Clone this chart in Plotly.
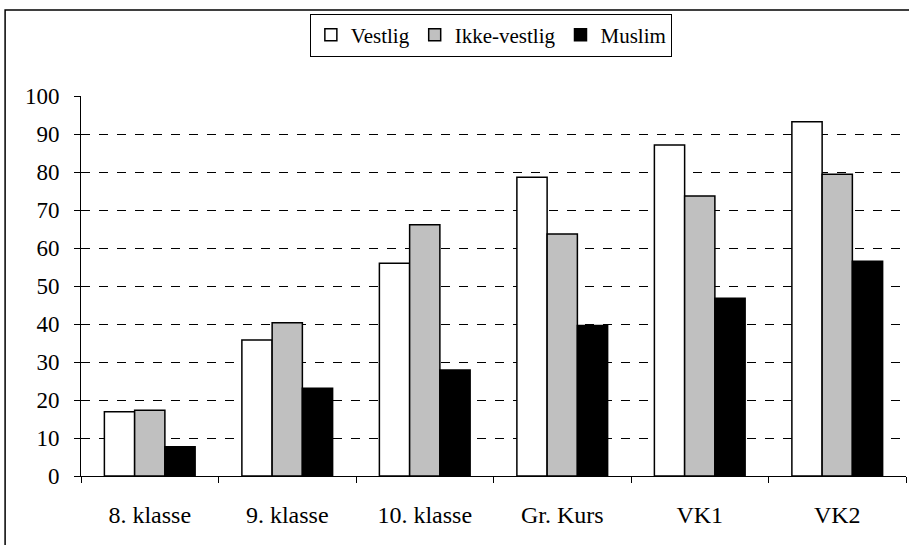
import plotly.graph_objects as go

# categories and values
categories = ['8. klasse', '9. klasse', '10. klasse', 'Gr. Kurs', 'VK1', 'VK2']
vestlig = [16.9, 35.8, 56.0, 78.6, 87.1, 93.2]
ikke_vestlig = [17.3, 40.3, 66.1, 63.7, 73.7, 79.4]
muslim = [7.7, 23.1, 27.9, 39.6, 46.8, 56.5]
y_ticks = list(range(0, 101, 10))

font_family = 'Liberation Serif'

fig = go.Figure()
fig.add_trace(go.Bar(x=categories, y=vestlig, name='Vestlig',
                     marker=dict(color='white', line=dict(color='black', width=1.5))))
fig.add_trace(go.Bar(x=categories, y=ikke_vestlig, name='Ikke-vestlig',
                     marker=dict(color='#c0c0c0', line=dict(color='black', width=1.5))))
fig.add_trace(go.Bar(x=categories, y=muslim, name='Muslim',
                     marker=dict(color='black', line=dict(color='black', width=1.5))))

fig.update_layout(
    width=909, height=545,
    margin=dict(l=81, r=3, t=96, b=69),
    paper_bgcolor='white', plot_bgcolor='white',
    font=dict(family=font_family, size=22, color='black'),
    barmode='group', bargap=0.34, bargroupgap=0,
    legend=dict(orientation='h', xref='container', x=0.54, xanchor='center',
                yref='container', y=1 - 35 / 545, yanchor='middle',
                bordercolor='black', borderwidth=1,
                font=dict(family=font_family, size=21),
                itemwidth=30, tracegroupgap=0),
    showlegend=True,
)

fig.update_xaxes(
    type='category', showline=True, linecolor='black', linewidth=1,
    ticks='outside', tickson='boundaries', ticklen=6, tickcolor='black',
    ticklabelstandoff=17, showgrid=False,
    tickfont=dict(family=font_family, size=24),
)
fig.update_yaxes(
    range=[0, 100], tickvals=y_ticks, showline=True, linecolor='black', linewidth=1,
    ticks='outside', ticklen=6, tickcolor='black', ticklabelstandoff=10,
    showgrid=True, gridcolor='black', gridwidth=1, griddash='dash',
    zeroline=False, tickfont=dict(family=font_family, size=23),
)

# outer chart frame (runs past the right and bottom edges in the reference)
fig.add_shape(type='rect', xref='paper', yref='paper',
              x0=-0.092, x1=1.03, y0=-0.3, y1=1.226,
              line=dict(color='black', width=1.5), fillcolor='rgba(0,0,0,0)',
              layer='below')

# drop the browser's default body margin so the figure sits at the page corner
fig.write_html('out.html', config={'displayModeBar': False},
               post_script="document.body.style.margin='0';")
